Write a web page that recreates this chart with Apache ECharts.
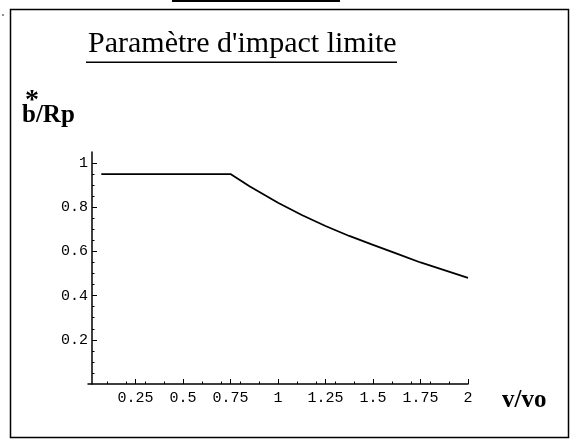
<!DOCTYPE html>
<html><head><meta charset="utf-8">
<script src="https://cdn.jsdelivr.net/npm/echarts@6/dist/echarts.min.js"></script>
<style>html,body{margin:0;padding:0;background:#fff}#c{width:571px;height:446px}</style>
</head><body><div id="c"></div>
<script>
// ---- data ----
const xValues = [0.07, 0.75, 0.85, 1.0, 1.125, 1.25, 1.375, 1.5, 1.625, 1.75, 1.875, 2.0];
const yValues = [0.95, 0.95, 0.895, 0.82, 0.765, 0.715, 0.67, 0.63, 0.59, 0.55, 0.515, 0.48];
const xTicks = [0.25, 0.5, 0.75, 1, 1.25, 1.5, 1.75, 2];
const yTicks = [0.2, 0.4, 0.6, 0.8, 1];
const titleText = "Paramètre d'impact limite";
const xName = "v/vo";
const yName = "b/Rp";

const chart = echarts.init(document.getElementById('c'), null, {renderer: 'canvas'});
const mono = '"Liberation Mono", "DejaVu Sans Mono", monospace';
const serif = '"Liberation Serif", "DejaVu Serif", serif';
chart.setOption({
  animation: false,
  backgroundColor: '#fff',
  title: {
    text: titleText, left: 83, top: 24,
    textStyle: {fontFamily: serif, fontSize: 30, fontWeight: 'normal', color: '#000'}
  },
  grid: {left: 88, right: 103, top: 152, bottom: 62, containLabel: false},
  xAxis: {
    type: 'value', min: 0, max: 2,
    axisLine: {onZero: false, lineStyle: {color: '#000', width: 1.5}},
    axisTick: {show: true, inside: true, length: 5, lineStyle: {color: '#000'}, customValues: xTicks},
    minorTick: {show: true, splitNumber: 5, length: 2.5, lineStyle: {color: '#000'}},
    axisLabel: {customValues: xTicks, color: '#000', fontFamily: mono, fontSize: 15, margin: 7},
    splitLine: {show: false}
  },
  yAxis: {
    type: 'value', min: 0, max: 1.05, offset: -4,
    axisLine: {lineStyle: {color: '#000', width: 1.5}},
    axisTick: {show: true, inside: true, length: 5, lineStyle: {color: '#000'}, customValues: yTicks},
    minorTick: {show: true, splitNumber: 4, length: 2.5, lineStyle: {color: '#000'}},
    axisLabel: {customValues: yTicks, color: '#000', fontFamily: mono, fontSize: 15, margin: 4},
    splitLine: {show: false}
  },
  series: [{
    type: 'line',
    data: xValues.map((x, i) => [x, yValues[i]]),
    showSymbol: false,
    lineStyle: {color: '#000', width: 1.8},
    smooth: false
  }],
  graphic: [
    {type: 'rect', shape: {x: 10.5, y: 9.5, width: 558, height: 428}, style: {fill: 'none', stroke: '#000', lineWidth: 1.5}, silent: true},
    {type: 'rect', shape: {x: 172, y: 0, width: 168, height: 2}, style: {fill: '#000'}, silent: true},
    {type: 'rect', shape: {x: 86, y: 61.5, width: 311, height: 1.5}, style: {fill: '#000'}, silent: true},
    {type: 'circle', shape: {cx: 3, cy: 15, r: 0.8}, style: {fill: '#000'}, silent: true},
    {type: 'text', left: 22, top: 103, style: {text: yName, fontFamily: serif, fontSize: 25, fontWeight: 'bold', fill: '#000'}},
    {type: 'text', left: 25, top: 87, style: {text: '*', fontFamily: serif, fontSize: 28, fontWeight: 'bold', fill: '#000'}},
    {type: 'text', left: 502, top: 388, style: {text: xName, fontFamily: serif, fontSize: 25, fontWeight: 'bold', fill: '#000'}}
  ]
});
</script>
</body></html>
